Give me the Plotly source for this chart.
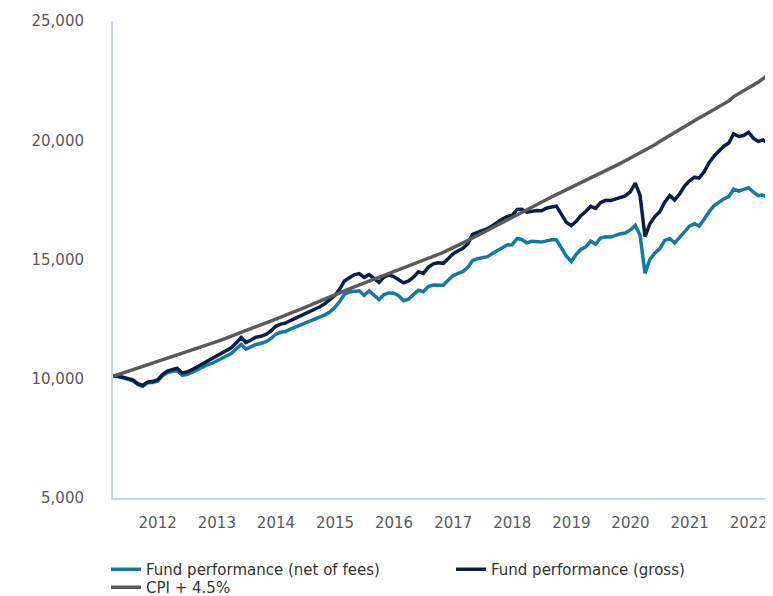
import pandas as pd
import plotly.graph_objects as go

# Month-end observations, Mar 2011 .. May 2022
dates = pd.date_range("2011-03-31", periods=135, freq="ME")

gross = [
    10100, 10100, 10060, 10000, 9950, 9790, 9720, 9870, 9880, 9950,
    10180, 10320, 10400, 10440, 10240, 10280, 10380, 10500, 10620, 10720,
    10830, 10950, 11070, 11170, 11300, 11500, 11730, 11520, 11620, 11740,
    11780, 11860, 12000, 12200, 12290, 12330, 12440, 12530, 12620, 12730,
    12840, 12930, 13020, 13150, 13300, 13490, 13770, 14100, 14230, 14360,
    14410, 14250, 14370, 14180, 14040, 14260, 14350, 14280, 14150, 14020,
    14100, 14260, 14490, 14420, 14680, 14820, 14860, 14840, 15030, 15240,
    15370, 15460, 15650, 16050, 16140, 16200, 16290, 16420, 16570, 16700,
    16800, 16850, 17100, 17110, 16980, 17030, 17050, 17040, 17150, 17200,
    17240, 16900, 16560, 16420, 16600, 16840, 17010, 17230, 17140, 17380,
    17480, 17470, 17540, 17620, 17670, 17840, 18200, 17700, 15960, 16500,
    16800, 17000, 17400, 17680, 17500, 17750, 18080, 18300, 18450, 18410,
    18680, 19050, 19330, 19540, 19750, 19880, 20270, 20160, 20200, 20330,
    20080, 19950, 20010, 19880, 19830,
]

net = [
    10100, 10090, 10040, 9980, 9920, 9760, 9680, 9830, 9840, 9900,
    10120, 10250, 10320, 10350, 10150, 10180, 10270, 10380, 10490, 10580,
    10640, 10750, 10860, 10950, 11060, 11250, 11440, 11240, 11330, 11440,
    11480, 11550, 11680, 11870, 11950, 11980, 12080, 12160, 12240, 12340,
    12430, 12510, 12580, 12680, 12800, 12990, 13250, 13540, 13640, 13680,
    13690, 13500, 13690, 13500, 13320, 13530, 13600, 13590, 13470, 13270,
    13340, 13530, 13710, 13650, 13870, 13930, 13930, 13920, 14130, 14320,
    14420, 14490, 14660, 14960, 15030, 15070, 15120, 15250, 15380, 15510,
    15610, 15620, 15880, 15840, 15700, 15760, 15760, 15730, 15780, 15830,
    15830, 15470, 15150, 14920, 15220, 15420, 15530, 15770, 15640, 15900,
    15950, 15940, 16010, 16080, 16110, 16240, 16430, 16030, 14420, 15000,
    15270, 15450, 15800, 15880, 15690, 15940, 16150, 16400, 16500, 16400,
    16680, 17000, 17250, 17400, 17540, 17640, 17950, 17870, 17930, 18010,
    17820, 17680, 17700, 17580, 17540,
]

cpi = [
    10100, 10170, 10240, 10310, 10380, 10450, 10510, 10580, 10650, 10720,
    10790, 10860, 10930, 11000, 11070, 11140, 11210, 11280, 11350, 11420,
    11490, 11560, 11630, 11700, 11780, 11860, 11940, 12020, 12100, 12180,
    12260, 12340, 12420, 12500, 12580, 12660, 12740, 12820, 12900, 12990,
    13080, 13170, 13260, 13350, 13440, 13520, 13600, 13680, 13770, 13850,
    13930, 14000, 14080, 14160, 14240, 14320, 14400, 14470, 14550, 14630,
    14710, 14790, 14870, 14950, 15030, 15120, 15210, 15300, 15390, 15480,
    15580, 15680, 15790, 15900, 16010, 16120, 16230, 16340, 16450, 16560,
    16670, 16780, 16890, 17000, 17110, 17220, 17320, 17420, 17520, 17620,
    17720, 17820, 17920, 18020, 18120, 18220, 18320, 18420, 18520, 18620,
    18720, 18820, 18920, 19030, 19140, 19250, 19360, 19470, 19580, 19690,
    19810, 19950, 20080, 20200, 20330, 20450, 20570, 20690, 20810, 20930,
    21050, 21170, 21290, 21410, 21530, 21650, 21830, 21950, 22060, 22170,
    22300, 22430, 22580, 22750, 22950,
]

series_names = ["Fund performance (net of fees)", "Fund performance (gross)", "CPI + 4.5%"]
series_colors = ["#1479a6", "#0b1e4a", "#5b5b5b"]
series_legend = ["legend", "legend", "legend2"]
year_ticks = [f"{y}-01-01" for y in range(2012, 2023)]
year_labels = [str(y) for y in range(2012, 2023)]
y_ticks = [5000, 10000, 15000, 20000, 25000]

FONT = "DejaVu Sans"
TXT = "#5a5a5a"
AXIS = "#c8d4e2"

fig = go.Figure()
for name, vals, col, lg in zip(series_names, [net, gross, cpi], series_colors, series_legend):
    fig.add_trace(go.Scatter(x=dates, y=vals, mode="lines", name=name, legend=lg,
                             line=dict(color=col, width=3.5)))

legend_common = dict(orientation="h", x=-0.0106, xanchor="left", yanchor="top",
                     entrywidth=300, entrywidthmode="pixels",
                     font=dict(family=FONT, size=15, color="#333333"),
                     itemwidth=30, bgcolor="rgba(0,0,0,0)")

# page body has an 8px margin, so the figure is drawn at (8, 8)
fig.update_layout(
    width=765, height=604,
    margin=dict(l=105, r=0, t=13, b=114, autoexpand=False),
    plot_bgcolor="white", paper_bgcolor="white",
    font=dict(family=FONT, size=15, color=TXT),
    showlegend=True,
    legend=dict(y=-0.1153, **legend_common),
    legend2=dict(y=-0.1530, **legend_common),
)
fig.update_xaxes(
    type="date", range=["2011-03-31", "2022-05-31"],
    tickvals=year_ticks, ticktext=year_labels,
    showgrid=False, zeroline=False, automargin=False,
    showline=True, linecolor=AXIS, linewidth=2,
    ticks="", ticklabelstandoff=10,
    tickfont=dict(family=FONT, size=15, color=TXT),
)
fig.update_yaxes(
    range=[5000, 25000], tickvals=y_ticks, tickformat=",",
    showgrid=False, zeroline=False, automargin=False,
    showline=True, linecolor=AXIS, linewidth=2,
    ticks="", ticklabelstandoff=24,
    tickfont=dict(family=FONT, size=15, color=TXT),
)

fig.write_html("out.html")
